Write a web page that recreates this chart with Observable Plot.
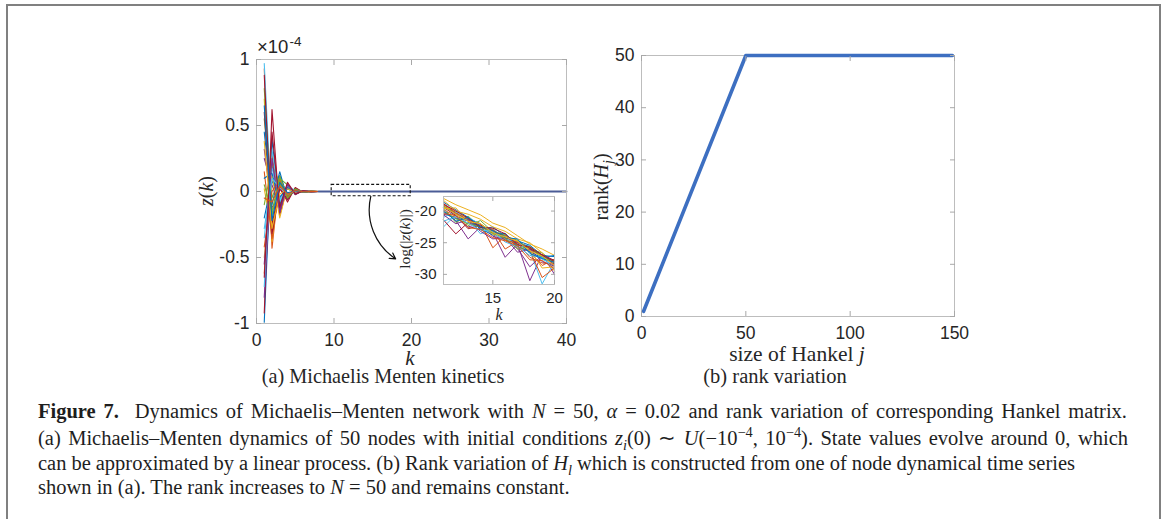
<!DOCTYPE html>
<html><head><meta charset="utf-8">
<script src="https://cdn.jsdelivr.net/npm/d3@7"></script>
<script src="https://cdn.jsdelivr.net/npm/@observablehq/plot@0.6"></script>
<style>
html,body{margin:0;padding:0;background:#fff;}
body{width:1174px;height:519px;overflow:hidden;position:relative;font-family:"Liberation Sans",Arial,sans-serif;color:#262626;}
#frame{position:absolute;left:6px;top:4px;width:1150.5px;height:600px;border:2.5px solid #808080;border-bottom:none;}
.abs{position:absolute;}
.serif{font-family:"Liberation Serif","Times New Roman",serif;color:#262626;white-space:nowrap;line-height:0.85;}
.c{transform:translate(-50%,-50%);}
.rot{transform:translate(-50%,-50%) rotate(-90deg);}
.cap{position:absolute;left:38px;font-family:"Liberation Serif","Times New Roman",serif;font-size:20.5px;color:#1e1e1e;white-space:nowrap;line-height:24px;}
sup,sub{font-size:0.7em;line-height:0;}
</style></head>
<body>
<div id="frame"></div>
<div id="left" class="abs" style="left:190px;top:30px"></div>
<div id="inset" class="abs" style="left:395px;top:190px"></div>
<div id="right" class="abs" style="left:580px;top:30px"></div>

<div class="abs" style="left:257px;top:36px;font-size:18.5px;line-height:1.2;white-space:nowrap;">×10<span style="font-size:13.5px;position:relative;top:-7px;margin-left:1px;">-4</span></div>
<div class="abs serif c" style="left:410px;top:359px;font-size:21px;"><i>k</i></div>
<div class="abs serif c" style="left:383px;top:377px;font-size:20.3px;">(a) Michaelis Menten kinetics</div>
<div class="abs serif rot" style="left:206px;top:191px;font-size:20px;"><i>z</i>(<i>k</i>)</div>
<div class="abs serif c" style="left:499px;top:315px;font-size:16px;"><i>k</i></div>
<div class="abs serif rot" style="left:405px;top:239px;font-size:15.5px;">log(|<i>z</i>(<i>k</i>)|)</div>
<div class="abs serif c" style="left:797px;top:354px;font-size:21.5px;">size of Hankel <i>j</i></div>
<div class="abs serif c" style="left:775px;top:377px;font-size:20.5px;">(b) rank variation</div>
<div class="abs serif rot" style="left:601px;top:187px;font-size:20px;">rank(<i>H<sub>j</sub></i>)</div>

<div class="cap" data-end="1127" style="top:399px;"><b>Figure 7.</b>&nbsp; Dynamics of Michaelis–Menten network with <i>N</i> = 50, <i>α</i> = 0.02 and rank variation of corresponding Hankel matrix.</div>
<div class="cap" data-end="1128" style="top:426px;">(a) Michaelis–Menten dynamics of 50 nodes with initial conditions <i>z<sub>i</sub></i>(0) ∼ <i>U</i>(−10<sup>−4</sup>, 10<sup>−4</sup>). State values evolve around 0, which</div>
<div class="cap" data-end="1075" style="top:451px;">can be approximated by a linear process. (b) Rank variation of <i>H<sub>l</sub></i> which is constructed from one of node dynamical time series</div>
<div class="cap" style="top:475px;">shown in (a). The rank increases to <i>N</i> = 50 and remains constant.</div>

<script>
// ---------- data ----------
const palette = ["#0072BD","#D95319","#EDB120","#7E2F8E","#77AC30","#4DBEEE","#A2142F"];

// Panel (a): z(k) in units of 1e-4, k = 1..8
const kMain = [1, 2, 3, 4, 5, 6, 7, 8];
const zSeries = [
  [-0.99, 0.40, -0.15, 0.05, -0.02, 0.006, -0.002, 0],
  [0.93, -0.43, 0.12, -0.05, 0.02, -0.006, 0.002, 0],
  [0.02, -0.30, 0.08, -0.03, 0.01, -0.004, 0.001, 0],
  [0.32, -0.12, -0.05, 0.03, -0.01, 0.003, -0.001, 0],
  [0.55, -0.05, 0.12, -0.04, 0.015, -0.005, 0.001, 0],
  [0.97, -0.20, 0.05, 0.02, -0.01, 0.003, -0.001, 0],
  [-0.92, 0.62, -0.18, 0.04, -0.015, 0.005, -0.002, 0],
  [0.45, -0.10, 0.15, -0.06, 0.02, -0.004, 0.001, 0],
  [-0.62, 0.28, -0.10, 0.05, -0.01, 0.003, 0, 0],
  [0.70, -0.38, 0.09, -0.02, 0.008, -0.002, 0, 0],
  [-0.80, 0.22, -0.14, 0.06, -0.025, 0.008, -0.002, 0],
  [0.78, -0.18, 0.10, 0.05, -0.02, 0.004, -0.001, 0],
  [-0.35, 0.18, -0.06, 0.03, -0.012, 0.004, -0.001, 0],
  [0.60, -0.25, 0.04, -0.08, 0.03, -0.006, 0.002, 0],
  [-0.20, 0.08, -0.04, 0.02, -0.006, 0.002, 0, 0],
  [0.15, -0.36, 0.06, -0.02, 0.01, -0.003, 0.001, 0],
  [-0.50, 0.12, -0.20, 0.04, -0.01, 0.004, -0.001, 0],
  [0.25, 0.05, -0.12, 0.05, -0.02, 0.006, -0.002, 0],
  [-0.10, 0.20, 0.06, -0.03, 0.012, -0.004, 0.001, 0],
  [-0.72, 0.32, -0.08, 0.04, 0.01, -0.003, 0.001, 0],
  [0.88, -0.32, 0.02, -0.06, 0.025, -0.008, 0.002, 0],
  [0.10, 0.14, -0.10, 0.03, -0.015, 0.004, -0.001, 0],
  [-0.42, 0.00, 0.09, -0.04, 0.01, -0.003, 0.001, 0],
  [0.38, -0.28, -0.02, 0.02, -0.008, 0.003, -0.001, 0],
  [-0.55, 0.25, -0.16, 0.05, -0.015, 0.005, -0.001, 0],
  [0.05, -0.15, 0.11, -0.05, 0.02, -0.005, 0.001, 0],
  [-0.28, 0.10, 0.03, -0.02, 0.006, -0.002, 0, 0],
  [-0.65, 0.45, -0.12, 0.07, -0.02, 0.006, -0.002, 0],
  [0.65, -0.22, 0.07, -0.01, 0.005, -0.002, 0, 0],
  [-0.05, -0.08, 0.04, -0.02, 0.008, -0.002, 0, 0]
];
// settled part of every trajectory (k = 8..40)
const kSettled = [8,9,10,11,12,13,14,15,16,17,18,19,20,21,22,23,24,25,26,27,28,29,30,31,32,33,34,35,36,37,38,39,40];
const zSettled = [0,0,0,0,0,0,0,0,0,0,0,0,0,0,0,0,0,0,0,0,0,0,0,0,0,0,0,0,0,0,0,0,0];

// zoom window and arrow (data units)
const zoomBox = {k1: 9.7, k2: 19.9, zLo: -0.036, zHi: 0.05};
const zoomArrow = {k1: 14.75, z1: -0.036, k2: 17.95, z2: -0.51};

// Inset: log(|z(k)|), k = 11..20
const kInset = [11, 12, 13, 14, 15, 16, 17, 18, 19, 20];
const logZ = [
  [-19.2, -20.5, -21.2, -22.0, -23.5, -23.8, -25.0, -25.6, -27.3, -27.8],
  [-19.0, -20.2, -21.6, -22.3, -23.0, -26.0, -24.8, -26.5, -28.6, -27.6],
  [-18.0, -19.0, -19.8, -20.6, -21.9, -22.6, -23.9, -25.2, -26.0, -27.0],
  [-20.0, -21.5, -24.4, -22.5, -23.4, -27.3, -25.2, -31.0, -26.8, -30.0],
  [-19.5, -21.8, -20.8, -22.6, -23.0, -24.0, -24.6, -26.0, -26.6, -28.2],
  [-22.5, -20.6, -21.0, -22.1, -23.6, -24.5, -25.3, -26.2, -31.5, -28.0],
  [-21.4, -23.6, -21.8, -22.5, -23.3, -24.2, -25.0, -26.0, -27.2, -28.4],
  [-18.6, -19.8, -21.0, -22.9, -22.5, -24.0, -24.7, -25.4, -27.0, -27.2],
  [-19.8, -20.8, -21.5, -22.0, -25.8, -23.9, -25.7, -26.3, -30.5, -29.0],
  [-18.3, -20.0, -20.5, -21.3, -22.5, -23.2, -24.4, -25.0, -26.6, -29.5],
  [-20.5, -21.0, -22.5, -22.0, -24.0, -24.5, -25.9, -28.8, -27.0, -28.5],
  [-19.2, -20.3, -22.3, -21.5, -23.3, -23.7, -25.4, -25.8, -27.4, -27.9],
  [-21.0, -20.1, -21.3, -23.6, -22.8, -24.4, -24.9, -26.6, -27.6, -28.6],
  [-19.4, -20.7, -22.8, -22.2, -23.1, -24.1, -24.9, -25.9, -27.0, -28.0],
  [-20.2, -21.2, -21.3, -22.8, -23.8, -23.5, -25.6, -26.4, -27.4, -27.0],
  [-18.8, -20.4, -21.2, -22.4, -22.9, -24.6, -25.1, -27.3, -28.2, -28.4],
  [-19.6, -19.5, -21.7, -22.0, -23.7, -24.0, -24.7, -26.1, -29.0, -28.8],
  [-20.6, -22.0, -21.4, -23.2, -24.4, -24.2, -26.5, -26.0, -28.0, -28.7],
  [-20.0, -21.2, -22.0, -22.5, -23.5, -24.3, -26.0, -25.6, -27.2, -28.2],
  [-21.6, -20.9, -21.9, -23.0, -23.2, -24.9, -25.6, -27.0, -27.3, -29.2],
  [-18.9, -20.0, -21.1, -22.6, -22.7, -23.6, -25.3, -25.7, -26.9, -27.8],
  [-19.9, -21.6, -21.0, -22.4, -23.1, -24.2, -24.4, -26.7, -27.5, -28.1],
  [-20.4, -20.7, -22.6, -22.9, -24.2, -24.7, -25.5, -27.7, -27.8, -29.1],
  [-19.3, -20.5, -21.6, -22.0, -23.4, -24.1, -24.8, -26.3, -27.1, -28.6]
];

// Panel (b): rank of Hankel matrix
const hankelJ = [1, 50, 149];
const rankH = [1, 50, 50];

// ticks
const kTicks = [0, 10, 20, 30, 40];
const zTicks = [-1, -0.5, 0, 0.5, 1];
const kInsetTicks = [15, 20];
const logZTicks = [-30, -25, -20];
const jTicks = [0, 50, 100, 150];
const rankTicks = [0, 10, 20, 30, 40, 50];

// ---------- drawing ----------
const boxColor = "#bdbdbd";
const tickColor = "#a8a8a8";
const labelColor = "#262626";
const sans = "'Liberation Sans', Arial, Helvetica, sans-serif";
const fmt = d => String(d);
const blank = () => "";

function boxAxes(xt, yt, size, padX, padY) {
  return [
    Plot.axisX({ticks: xt, tickSize: -size, tickPadding: padX, tickFormat: fmt, stroke: tickColor, fill: labelColor, label: null}),
    Plot.axisX({anchor: "top", ticks: xt, tickSize: -size, tickFormat: blank, stroke: tickColor, label: null}),
    Plot.axisY({ticks: yt, tickSize: -size, tickPadding: padY, tickFormat: fmt, stroke: tickColor, fill: labelColor, label: null}),
    Plot.axisY({anchor: "right", ticks: yt, tickSize: -size, tickFormat: blank, stroke: tickColor, label: null})
  ];
}

const mainLines = zSeries.map((zs, i) =>
  Plot.line(zs, {x: (d, j) => kMain[j], y: d => d, stroke: palette[i % palette.length], strokeWidth: 1.1})
);

const leftPlot = Plot.plot({
  width: 400, height: 330,
  marginLeft: 66, marginRight: 24, marginTop: 29, marginBottom: 37,
  style: {fontFamily: sans, fontSize: "17.5px", background: "transparent", overflow: "visible"},
  x: {domain: [0, 40], label: null},
  y: {domain: [-1, 1], label: null},
  marks: [
    ...mainLines,
    Plot.line(zSettled, {x: (d, j) => kSettled[j], y: d => d, stroke: "#4b5c96", strokeWidth: 1.8}),
    Plot.rect([zoomBox], {x1: "k1", x2: "k2", y1: "zLo", y2: "zHi", fill: "none", stroke: "#111", strokeWidth: 1.1, strokeDasharray: "3,2"}),
    Plot.arrow([zoomArrow], {x1: "k1", y1: "z1", x2: "k2", y2: "z2", bend: -35, stroke: "#111", strokeWidth: 1.2, headLength: 8}),
    Plot.frame({stroke: boxColor}),
    ...boxAxes(kTicks, zTicks, 5, 15, 12)
  ]
});
document.getElementById("left").appendChild(leftPlot);

const insetLines = logZ.map((ls, i) =>
  Plot.line(ls, {x: (d, j) => kInset[j], y: d => d, stroke: palette[i % palette.length], strokeWidth: 1})
);
const insetPlot = Plot.plot({
  width: 170, height: 135,
  marginLeft: 48, marginRight: 11, marginTop: 6, marginBottom: 41,
  style: {fontFamily: sans, fontSize: "15px", background: "transparent", overflow: "visible"},
  x: {domain: [11, 20], label: null},
  y: {domain: [-31.6, -17.7], label: null},
  marks: [
    Plot.frame({fill: "white", stroke: "none"}),
    ...insetLines,
    Plot.frame({stroke: boxColor}),
    ...boxAxes(kInsetTicks, logZTicks, 4, 12, 11)
  ]
});
document.getElementById("inset").appendChild(insetPlot);

const rightPlot = Plot.plot({
  width: 400, height: 330,
  marginLeft: 61, marginRight: 26, marginTop: 25, marginBottom: 44,
  style: {fontFamily: sans, fontSize: "17.5px", background: "transparent", overflow: "visible"},
  x: {domain: [0, 150], label: null},
  y: {domain: [0, 50], label: null},
  marks: [
    Plot.frame({stroke: boxColor}),
    Plot.line(rankH, {x: (d, j) => hankelJ[j], y: d => d, stroke: "#3d6fc1", strokeWidth: 3.6}),
    ...boxAxes(jTicks, rankTicks, 5, 15, 12)
  ]
});
document.getElementById("right").appendChild(rightPlot);

// stretch caption lines to the reference's line ends
document.querySelectorAll(".cap[data-end]").forEach(el => {
  const box = el.getBoundingClientRect();
  const target = +el.dataset.end - box.left;
  const gaps = (el.textContent.match(/[ \u00a0]/g) || []).length;
  if (gaps > 0) el.style.wordSpacing = ((target - box.width) / gaps) + "px";
});
</script>
</body></html>
